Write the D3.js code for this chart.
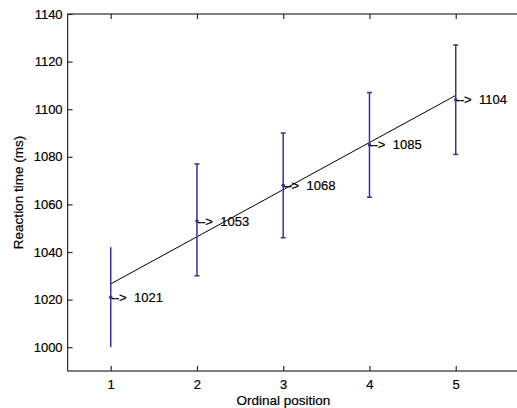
<!DOCTYPE html>
<html>
<head>
<meta charset="utf-8">
<script src="https://cdn.jsdelivr.net/npm/d3@7/dist/d3.min.js"></script>
<style>
  html, body { margin: 0; padding: 0; background: #fff; }
  svg { display: block; }
  text { font-family: "Liberation Sans", Arial, sans-serif; fill: #000; }
</style>
</head>
<body>
<svg id="chart" width="517" height="408"></svg>
<script>
// ---- data ----
const positions = [1, 2, 3, 4, 5];
const meanRT = [1021, 1053, 1068, 1085, 1104];
const errLow = [1000, 1030, 1046, 1063, 1081];
const errHigh = [1042, 1077, 1090, 1107, 1127];
const fitX = [1, 5];
const fitY = [1026.6, 1105.8];
const yTicks = [1000, 1020, 1040, 1060, 1080, 1100, 1120, 1140];
const xTicks = [1, 2, 3, 4, 5];
const xLabel = "Ordinal position";
const yLabel = "Reaction time (ms)";

// ---- layout ----
const padL = 67.6, padT = 14, padB = 371;
const svg = d3.select("#chart");
const x = d3.scaleLinear().domain([0.5, 5.75]).range([padL, padL + 5.25 * 86.25]);
const y = d3.scaleLinear().domain([990, 1140]).range([padB, padT]);
const padR = x(5.75);

const axisColor = "#2b2b2b";
const barColor = "#34349c";

// frame
svg.append("rect")
  .attr("x", padL).attr("y", padT)
  .attr("width", padR - padL).attr("height", padB - padT)
  .attr("fill", "none").attr("stroke", axisColor).attr("stroke-width", 1.2);

// axes with inward ticks
const xAxis = d3.axisBottom(x).tickValues(xTicks).tickSizeInner(-5).tickSizeOuter(0).tickPadding(9).tickFormat(d3.format("d"));
const gx = svg.append("g").attr("transform", `translate(0,${padB})`).call(xAxis);
const xAxisTop = d3.axisTop(x).tickValues(xTicks).tickSizeInner(-5).tickSizeOuter(0).tickFormat("");
const gxt = svg.append("g").attr("transform", `translate(0,${padT})`).call(xAxisTop);
const yAxis = d3.axisLeft(y).tickValues(yTicks).tickSizeInner(-5).tickSizeOuter(0).tickPadding(5).tickFormat(d3.format("d"));
const gy = svg.append("g").attr("transform", `translate(${padL},0)`).call(yAxis);

[gx, gxt, gy].forEach(g => {
  g.select(".domain").remove();
  g.selectAll(".tick line").attr("stroke", axisColor).attr("stroke-width", 1.2);
  g.selectAll(".tick text").attr("font-size", 13).attr("fill", "#000")
    .attr("stroke", "#000").attr("stroke-width", 0.2)
    .attr("font-family", "'Liberation Sans', Arial, sans-serif");
});

// axis labels
svg.append("text")
  .attr("x", (padL + 500) / 2 - 0.5).attr("y", 405)
  .attr("text-anchor", "middle").attr("font-size", 13.5)
  .attr("stroke", "#000").attr("stroke-width", 0.2)
  .text(xLabel);
svg.append("text")
  .attr("transform", `translate(23,${(padT + padB) / 2}) rotate(-90)`)
  .attr("text-anchor", "middle").attr("font-size", 13.5)
  .attr("stroke", "#000").attr("stroke-width", 0.2)
  .text(yLabel);

// fit line
svg.append("line")
  .attr("x1", x(fitX[0])).attr("y1", y(fitY[0]))
  .attr("x2", x(fitX[1])).attr("y2", y(fitY[1]))
  .attr("stroke", "#000").attr("stroke-width", 1);

// error bars
const data = positions.map((p, i) => ({ p, m: meanRT[i], lo: errLow[i], hi: errHigh[i], i }));
const eb = svg.append("g");
eb.selectAll("line.v").data(data).join("line")
  .attr("x1", d => x(d.p)).attr("x2", d => x(d.p))
  .attr("y1", d => y(d.lo)).attr("y2", d => y(d.hi))
  .attr("stroke", barColor).attr("stroke-width", 1.5);
const capData = data.filter(d => d.i > 0);
["lo", "hi"].forEach(k => {
  eb.append("g").selectAll("line").data(capData).join("line")
    .attr("x1", d => x(d.p) - 2.5).attr("x2", d => x(d.p) + 2.5)
    .attr("y1", d => y(d[k])).attr("y2", d => y(d[k]))
    .attr("stroke", barColor).attr("stroke-width", 1.5);
});
eb.selectAll("circle").data(data).join("circle")
  .attr("cx", d => x(d.p)).attr("cy", d => y(d.m)).attr("r", 1.8)
  .attr("fill", barColor);

// value labels
const lab = svg.append("g").selectAll("text").data(data).join("text")
  .attr("x", d => x(d.p) + 0.5).attr("y", d => y(d.m))
  .attr("dy", "0.35em").attr("font-size", 13)
  .attr("stroke", "#000").attr("stroke-width", 0.2);
lab.append("tspan").attr("letter-spacing", "-0.5").text("-->");
lab.append("tspan").attr("dx", 8).text(d => d.m);
</script>
</body>
</html>
